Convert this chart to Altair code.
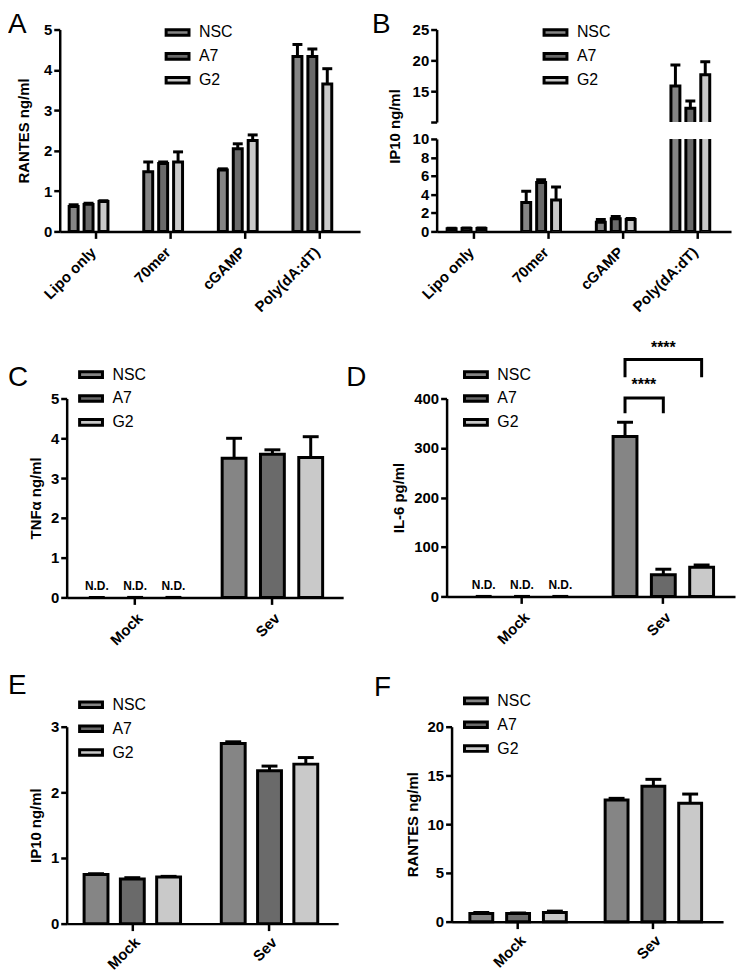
import altair as alt
import pandas as pd

FONT = "Liberation Sans"
SERIES = ["NSC", "A7", "G2"]
FILLS = ["#858585", "#6a6a6a", "#c9c9c9"]
RECT = "M-1.15,-0.28L1.15,-0.28L1.15,0.28L-1.15,0.28Z"

# ---- Panel A: RANTES after DNA stimulation ----
A_CATS = ["Lipo only", "70mer", "cGAMP", "Poly(dA:dT)"]
A_NSC = [0.62, 1.48, 1.52, 4.33]
A_A7 = [0.67, 1.68, 2.05, 4.33]
A_G2 = [0.74, 1.72, 2.25, 3.65]
A_NSC_ERR = [0.04, 0.24, 0.03, 0.30]
A_A7_ERR = [0.03, 0.04, 0.12, 0.19]
A_G2_ERR = [0.02, 0.25, 0.14, 0.38]

# ---- Panel B: IP10 after DNA stimulation (broken axis) ----
B_NSC = [0.30, 3.14, 1.00, 15.85]
B_A7 = [0.33, 5.29, 1.36, 12.23]
B_G2 = [0.32, 3.40, 1.30, 17.66]
B_NSC_ERR = [0.05, 1.20, 0.30, 3.40]
B_A7_ERR = [0.04, 0.30, 0.25, 1.17]
B_G2_ERR = [0.04, 1.40, 0.10, 2.10]

# ---- Panels C-F: Sendai virus infection ----
SEV_CATS = ["Mock", "Sev"]
C_NSC = [None, 3.50]
C_A7 = [None, 3.60]
C_G2 = [None, 3.52]
C_NSC_ERR = [None, 0.50]
C_A7_ERR = [None, 0.11]
C_G2_ERR = [None, 0.52]

D_NSC = [None, 323]
D_A7 = [None, 44]
D_G2 = [None, 59]
D_NSC_ERR = [None, 29]
D_A7_ERR = [None, 11]
D_G2_ERR = [None, 4.5]

E_NSC = [0.75, 2.745]
E_A7 = [0.68, 2.33]
E_G2 = [0.71, 2.43]
E_NSC_ERR = [0.01, 0.025]
E_A7_ERR = [0.02, 0.07]
E_G2_ERR = [0.01, 0.10]

F_NSC = [0.84, 12.48]
F_A7 = [0.84, 13.90]
F_G2 = [0.94, 12.14]
F_NSC_ERR = [0.10, 0.17]
F_A7_ERR = [0.06, 0.70]
F_G2_ERR = [0.14, 0.95]

# significance brackets in panel D
BR_LEFT = ["NSC", "NSC"]
BR_RIGHT = ["A7", "G2"]
BR_TOP = [401, 479]
BR_BOTTOM = [370, 443]
STAR_Y = [428, 503]
STAR_TEXT = ["****", "****"]


def make_df(cats, means, errs):
    rows = []
    for s, ml, el in zip(SERIES, means, errs):
        for c, m, e in zip(cats, ml, el):
            rows.append({"cat": c, "series": s, "mean": m, "err": e,
                         "label": "N.D." if m is None else ""})
    return pd.DataFrame(rows)


def legend(x, y):
    return alt.Legend(title=None, orient="none", legendX=x, legendY=y,
                      symbolType=RECT, symbolSize=400, symbolStrokeColor="black",
                      symbolStrokeWidth=3, symbolOpacity=1, labelFont=FONT,
                      labelFontSize=16, labelColor="black", labelOffset=10,
                      rowPadding=3, padding=0, labelLimit=0)


def letter(t, dx, off):
    return alt.TitleParams(text=t, anchor="start", frame="group", fontSize=28,
                           fontWeight="normal", font=FONT, color="black",
                           baseline="alphabetic", offset=off, dx=dx, limit=0)


def xband(pi, po, al):
    return alt.Scale(paddingInner=pi, paddingOuter=po, align=al)


def panel(df, cats, ydom, yvals, ytitle, xscale, oscale, cap,
          leg=None, clip=False, show_x=True, ypad=7, ylabel_expr=None,
          title_y=None, band_pos=0.5, xpad=6):
    yargs = dict(values=yvals, title=ytitle, titlePadding=ypad)
    if ylabel_expr:
        yargs["labelExpr"] = ylabel_expr
    if title_y is not None:
        yargs["titleY"] = title_y
    yaxis = alt.Axis(**yargs)
    if show_x:
        xaxis = alt.Axis(title=None, labelAngle=-45, tickSize=7, labelPadding=xpad,
                         bandPosition=band_pos)
    else:
        xaxis = None
    X = alt.X("cat:N", sort=cats, scale=xscale, axis=xaxis)
    XO = alt.XOffset("series:N", sort=SERIES, scale=oscale)
    ysc = alt.Scale(domain=ydom, nice=False, zero=False)
    base = alt.Chart(df).transform_calculate(hi="datum.mean + datum.err")
    err = base.mark_rule(color="black", strokeWidth=3, clip=clip).encode(
        x=X, xOffset=XO, y=alt.Y("mean:Q", scale=ysc, axis=yaxis), y2="hi:Q")
    capm = base.mark_tick(color="black", thickness=3, size=cap, orient="horizontal",
                          clip=clip, opacity=1).encode(
        x=X, xOffset=XO, y=alt.Y("hi:Q", scale=ysc, axis=yaxis))
    bars = base.mark_bar(stroke="black", strokeWidth=3, clip=clip, opacity=1).encode(
        x=X, xOffset=XO, y=alt.Y("mean:Q", scale=ysc, axis=yaxis),
        fill=alt.Fill("series:N", sort=SERIES,
                      scale=alt.Scale(domain=SERIES, range=FILLS), legend=leg))
    nd = base.transform_filter("datum.label == 'N.D.'").transform_calculate(
        zero="0").mark_text(font=FONT, fontSize=12, fontWeight="bold",
                            baseline="bottom", dy=-4, color="black").encode(
        x=X, xOffset=XO, y=alt.Y("zero:Q", scale=ysc, axis=yaxis), text="label:N")
    layers = [err, capm, bars, nd]
    return layers, X, XO, ysc, yaxis


def spacer(w, h):
    return alt.Chart(alt.Data(values=[{"s": 0}])).mark_point(opacity=0, size=1).encode(
        x=alt.value(0), y=alt.value(0)).properties(width=w, height=h)


def indep(c):
    return c.resolve_scale(x="independent", y="independent", xOffset="independent",
                           fill="independent").resolve_legend(fill="independent")


dfA = make_df(A_CATS, [A_NSC, A_A7, A_G2], [A_NSC_ERR, A_A7_ERR, A_G2_ERR])
dfB = make_df(A_CATS, [B_NSC, B_A7, B_G2], [B_NSC_ERR, B_A7_ERR, B_G2_ERR])
dfC = make_df(SEV_CATS, [C_NSC, C_A7, C_G2], [C_NSC_ERR, C_A7_ERR, C_G2_ERR])
dfD = make_df(SEV_CATS, [D_NSC, D_A7, D_G2], [D_NSC_ERR, D_A7_ERR, D_G2_ERR])
dfE = make_df(SEV_CATS, [E_NSC, E_A7, E_G2], [E_NSC_ERR, E_A7_ERR, E_G2_ERR])
dfF = make_df(SEV_CATS, [F_NSC, F_A7, F_G2], [F_NSC_ERR, F_A7_ERR, F_G2_ERR])

inner_small = alt.Scale(paddingInner=0.4, paddingOuter=0)

# Panel A
la, *_ = panel(dfA, A_CATS, [0, 5], [0, 1, 2, 3, 4, 5], "RANTES ng/ml",
               xband(0.48, 0.253, 0.25), inner_small, 10,
               leg=legend(107, -8.5), ypad=12, band_pos=0.7)
A = alt.layer(*la).properties(width=302, height=203, title=letter("A", -52, -40))

# Panel B (broken axis: two stacked views)
lbu, *_ = panel(dfB, A_CATS, [10, 25], [10, 15, 20, 25], None,
                xband(0.48, 0.213, 0.33), inner_small, 10, leg=legend(108, -8.5),
                clip=True, show_x=False,
                ylabel_expr="datum.value == 10 ? '' : datum.label")
B_up = alt.layer(*lbu).properties(width=296, height=93, title=letter("B", -65, -40))
lbl, *_ = panel(dfB, A_CATS, [0, 10], [0, 2, 4, 6, 8, 10], "IP10 ng/ml",
                xband(0.48, 0.213, 0.33), inner_small, 10, leg=None,
                clip=True, ypad=10, title_y=-13, band_pos=0.7)
B_lo = alt.layer(*lbl).properties(width=296, height=93)
B = indep(alt.vconcat(B_up, B_lo, spacing=17, bounds="flush"))

# Panel C
lc, *_ = panel(dfC, SEV_CATS, [0, 5], [0, 1, 2, 3, 4, 5], "TNFα ng/ml",
               xband(0.268, 0.141, 0.47), alt.Scale(paddingInner=0.377, paddingOuter=0),
               16, leg=legend(13, -35.5))
C = alt.layer(*lc).properties(width=278, height=200, title=letter("C", -59, -50.5))

# Panel D
ld, XD, XOD, ysd, yad = panel(dfD, SEV_CATS, [0, 400], [0, 100, 200, 300, 400],
                              "IL-6 pg/ml", xband(0.289, 0.165, 0.54),
                              alt.Scale(paddingInner=0.377, paddingOuter=0), 16,
                              leg=legend(18, -35.5))
br_rows = []
for i, (l, r, t, b) in enumerate(zip(BR_LEFT, BR_RIGHT, BR_TOP, BR_BOTTOM)):
    for k, (s, v) in enumerate([(l, b), (l, t), (r, t), (r, b)]):
        br_rows.append({"cat": "Sev", "series": s, "v": v, "bid": i, "ord": k})
br_df = pd.DataFrame(br_rows)
brackets = alt.Chart(br_df).mark_line(color="black", strokeWidth=3).encode(
    x=XD, xOffset=XOD, y=alt.Y("v:Q", scale=ysd, axis=yad), detail="bid:N", order="ord:Q")
star_df = pd.DataFrame({"cat": ["Sev", "Sev"], "series": BR_LEFT, "v": STAR_Y,
                        "t": STAR_TEXT, "bid": [0, 1]})
star1 = alt.Chart(star_df).transform_filter("datum.bid == 0").mark_text(
    font=FONT, fontSize=16, fontWeight="bold", dx=19, color="black").encode(
    x=XD, xOffset=XOD, y=alt.Y("v:Q", scale=ysd, axis=yad), text="t:N")
star2 = alt.Chart(star_df).transform_filter("datum.bid == 1").transform_calculate(
    series="'A7'").mark_text(font=FONT, fontSize=16, fontWeight="bold", color="black").encode(
    x=XD, xOffset=XOD, y=alt.Y("v:Q", scale=ysd, axis=yad), text="t:N")
D = alt.layer(*ld, brackets, star1, star2).properties(
    width=290, height=199, title=letter("D", -101, -75))

# Panel E
le, *_ = panel(dfE, SEV_CATS, [0, 3], [0, 1, 2, 3], "IP10 ng/ml",
               xband(0.297, 0.138, 0.46), alt.Scale(paddingInner=0.342, paddingOuter=0),
               16, leg=legend(13, -33.5), xpad=4)
E = alt.layer(*le).properties(width=273, height=198, title=letter("E", -59, -28.5))

# Panel F
lf, *_ = panel(dfF, SEV_CATS, [0, 20], [0, 5, 10, 15, 20], "RANTES ng/ml",
               xband(0.287, 0.147, 0.46), alt.Scale(paddingInner=0.378, paddingOuter=0),
               16, leg=legend(13, -37.5), xpad=4)
F = alt.layer(*lf).properties(width=273, height=196, title=letter("F", -78, -34.5))

row1 = indep(alt.hconcat(A, spacer(77, 1), B, spacing=0, bounds="flush"))
row2 = indep(alt.hconcat(spacer(7, 1), C, spacer(104, 1), D, spacing=0, bounds="flush"))
row3 = indep(alt.hconcat(spacer(7, 1), E, spacer(114, 1), F, spacing=0, bounds="flush"))

chart = indep(alt.vconcat(row1, spacer(1, 23), row2, spacer(1, 23), row3, spacing=0))
chart = chart.properties(padding={"left": 0, "top": 0, "right": 2, "bottom": 0}).configure_view(
    stroke=None).configure_axis(
    domainColor="black", domainWidth=2.5, tickColor="black", tickWidth=2.5,
    labelColor="black", titleColor="black", labelFont=FONT, titleFont=FONT,
    labelFontSize=15, titleFontSize=15, labelFontWeight="bold",
    titleFontWeight="bold", grid=False, tickSize=6, labelPadding=2)

chart.save("out.html", embed_options={"renderer": "svg", "actions": False})
